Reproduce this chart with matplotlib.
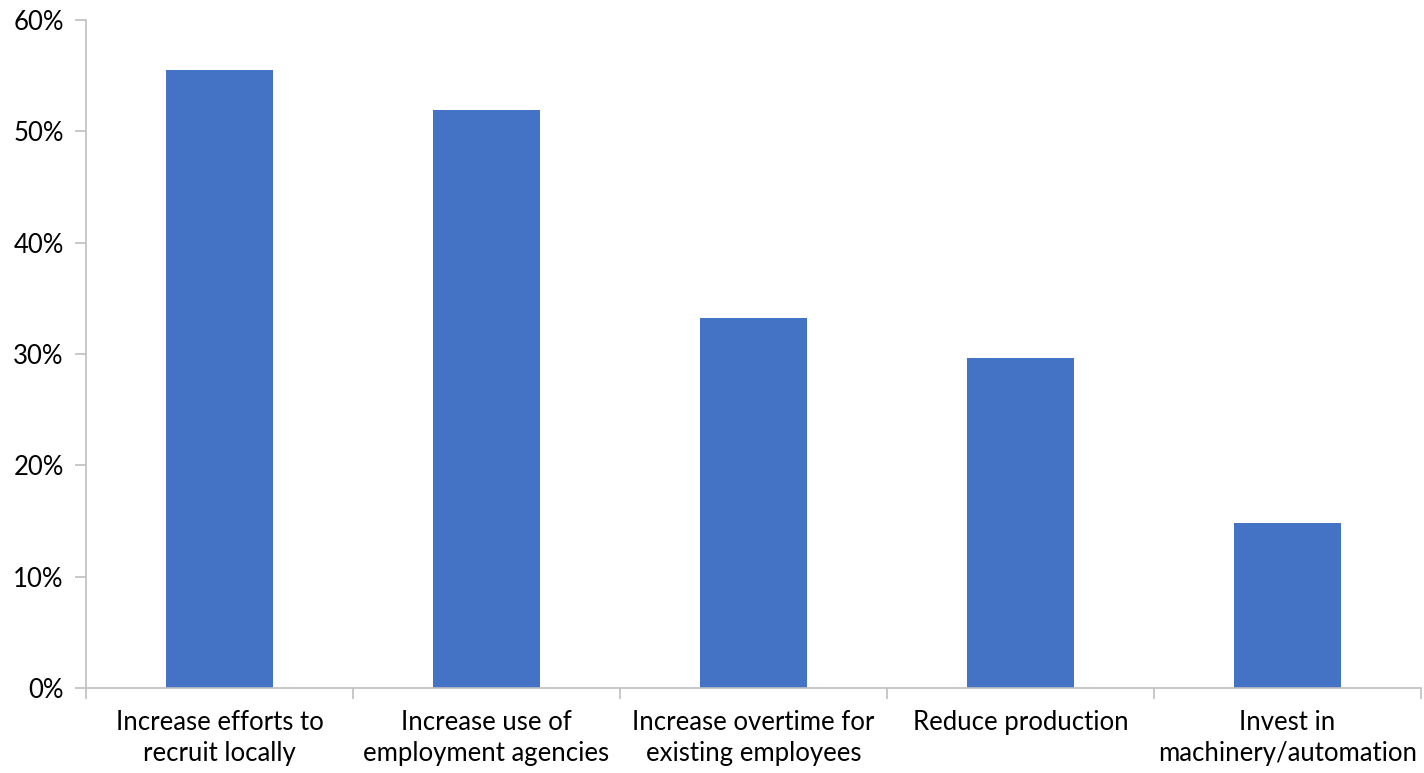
import matplotlib.pyplot as plt
from matplotlib.ticker import PercentFormatter, FixedLocator

categories = ['Increase efforts to\nrecruit locally',
              'Increase use of\nemployment agencies',
              'Increase overtime for\nexisting employees',
              'Reduce production',
              'Invest in\nmachinery/automation']
shares = [55.5, 51.9, 33.2, 29.6, 14.8]
y_ticks = [0, 10, 20, 30, 40, 50, 60]

plt.rcParams['font.family'] = ['Lato', 'DejaVu Sans']

fig = plt.figure(figsize=(14.24, 7.73), dpi=100)
ax = fig.add_axes([0.0604, 0.110, 0.9375, 0.864])

x = list(range(len(categories)))
ax.bar(x, shares, width=0.4, color='#4472c4', zorder=2)

ax.set_xlim(-0.5, len(categories) - 0.5)
ax.set_ylim(0, 60)
ax.set_yticks(y_ticks)
ax.yaxis.set_major_formatter(PercentFormatter(decimals=0))

ax.set_xticks(x)
ax.set_xticklabels(categories, linespacing=1.3)
ax.xaxis.set_minor_locator(FixedLocator([i - 0.5 for i in range(len(categories) + 1)]))
ax.tick_params(axis='x', which='major', length=0, pad=16, labelsize=18.5)
ax.tick_params(axis='x', which='minor', length=8, color='#bfbfbf', width=1.2)
ax.tick_params(axis='y', length=8, color='#bfbfbf', width=1.2, labelsize=18.5, pad=8)

for side in ['top', 'right']:
    ax.spines[side].set_visible(False)
for side in ['left', 'bottom']:
    ax.spines[side].set_color('#bfbfbf')
    ax.spines[side].set_linewidth(1.2)

fig.savefig('out.png', dpi=100)
